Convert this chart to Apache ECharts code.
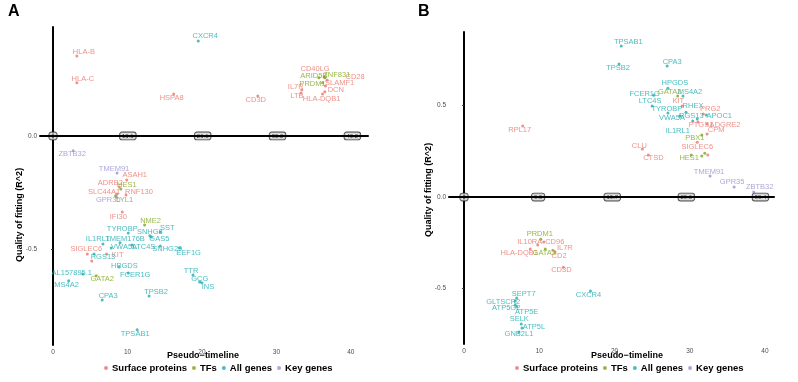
<!DOCTYPE html>
<html><head><meta charset="utf-8">
<script src="https://cdn.jsdelivr.net/npm/echarts@6/dist/echarts.min.js"></script>
<style>html,body{margin:0;padding:0;background:#fff}#c{width:798px;height:382px}</style>
</head><body><div id="c"></div>
<script>
// ---------- DATA ----------
const groups = ['Surface proteins', 'TFs', 'All genes', 'Key genes'];

// Panel A  [gene, pseudo-time, R^2]
const aSurface = [
  ['HLA-B', 3.2, 0.354], ['HLA-C', 3.2, 0.235], ['HSPA8', 16.2, 0.186], ['CD3D', 27.5, 0.177],
  ['CD40LG', 36.4, 0.261], ['CD28', 36.8, 0.248], ['SLAMF1', 36.6, 0.221], ['IL7R', 33.4, 0.204],
  ['LTB', 33.3, 0.190], ['DCN', 36.5, 0.195], ['HLA-DQB1', 36.2, 0.186],
  ['ASAH1', 9.9, -0.195], ['ADRB2', 8.9, -0.226], ['SLC44A1', 8.6, -0.257], ['RNF130', 9.8, -0.261],
  ['IFI30', 9.3, -0.336], ['SIGLEC6', 4.6, -0.522], ['KIT', 7.2, -0.522], ['', 5.2, -0.553]
];
const aTFs = [
  ['ARID5B', 35.7, 0.257], ['ZNF831', 36.5, 0.257], ['PRDM1', 36.2, 0.235],
  ['HES1', 9.1, -0.235], ['LYL1', 8.4, -0.265], ['NME2', 12.3, -0.394], ['GATA2', 5.8, -0.619]
];
const aAll = [
  ['CXCR4', 19.5, 0.420], ['TYROBP', 10.1, -0.429], ['SNHG8', 13.0, -0.442], ['SST', 14.4, -0.425],
  ['GAS5', 13.2, -0.447], ['IL1RL1', 6.7, -0.478], ['TMEM176B', 9.0, -0.473], ['VWA5A', 7.8, -0.496],
  ['LTC4S', 10.6, -0.482], ['SNHG29', 14.4, -0.487], ['EEF1G', 17.0, -0.496], ['RGS13', 5.5, -0.522],
  ['AL157895.1', 4.0, -0.611], ['MS4A2', 2.1, -0.641], ['HPGDS', 8.9, -0.580], ['FCER1G', 10.1, -0.606],
  ['TTR', 18.8, -0.615], ['GCG', 19.7, -0.646], ['INS', 20.0, -0.650], ['CPA3', 6.6, -0.726],
  ['TPSB2', 12.9, -0.708], ['TPSAB1', 11.3, -0.858]
];
const aKey = [
  ['ZBTB32', 2.7, -0.066], ['TMEM91', 8.6, -0.164], ['GPR35', 8.5, -0.270]
];

// Panel B
const bSurface = [
  ['KIT', 29.0, 0.497], ['PRG2', 31.8, 0.454], ['ADGRE2', 32.3, 0.399], ['PTGS1', 31.1, 0.410],
  ['CPM', 32.3, 0.344], ['SIGLEC6', 31.0, 0.300], ['CLU', 23.7, 0.262], ['CTSD', 24.5, 0.230],
  ['', 32.4, 0.230], ['RPL17', 7.8, 0.388],
  ['IL10RA', 9.8, -0.262], ['CD96', 10.6, -0.246], ['IL7R', 11.8, -0.290], ['HLA-DQB1', 8.8, -0.284],
  ['CD2', 12.1, -0.300], ['CD3D', 13.2, -0.383]
];
const bTFs = [
  ['GATA2', 28.4, 0.552], ['PBX1', 31.6, 0.339], ['HES1', 30.2, 0.230], ['', 31.6, 0.224], ['', 32.0, 0.240],
  ['PRDM1', 10.2, -0.230], ['GATA3', 10.8, -0.284]
];
const bAll = [
  ['TPSAB1', 20.9, 0.825], ['TPSB2', 20.6, 0.727], ['CPA3', 27.0, 0.716], ['HPGDS', 27.1, 0.595],
  ['MS4A2', 29.1, 0.552], ['FCER1G', 25.2, 0.557], ['LTC4S', 25.0, 0.497], ['TYROBP', 27.1, 0.459],
  ['RHEX', 29.5, 0.464], ['APOC1', 32.2, 0.448], ['VWA5A', 28.7, 0.443], ['RGS13', 31.0, 0.426],
  ['IL1RL1', 30.4, 0.415],
  ['CXCR4', 16.8, -0.514], ['SEPT7', 7.0, -0.552], ['GLTSCR2', 6.8, -0.568], ['ATP5G2', 6.8, -0.590],
  ['ATP5E', 7.0, -0.600], ['SELK', 7.6, -0.694], ['ATP5L', 7.7, -0.716], ['GNB2L1', 7.3, -0.738]
];
const bKey = [
  ['TMEM91', 32.7, 0.115], ['GPR35', 35.9, 0.055], ['ZBTB32', 38.5, 0.027]
];

const xTicks = [0, 10, 20, 30, 40];
const yTicksA = [-0.5, 0];
const yTicksB = [-0.5, 0, 0.5];
const boxLabelsA = ['0', '10.1', '20.1', '30.2', '40.2'];
const boxLabelsB = ['0', '9.9', '19.7', '29.6', '39.4'];

// ---------- STYLE (label placement, px offsets from point) ----------
const offA = {
  'HLA-B':[7,-4],'HLA-C':[6,-4],'HSPA8':[-2,4],'CXCR4':[7,-5],'CD3D':[-2,4],'CD40LG':[-9,-8],
  'ARID5B':[-5,-2],'ZNF831':[12,-3],'CD28':[28,-3],'PRDM1':[-10,1],'SLAMF1':[14,-3],'IL7R':[-6,-3],
  'LTB':[-4,3],'DCN':[11,-2],'HLA-DQB1':[-1,5],
  'ZBTB32':[-1,3],'TMEM91':[-3,-4],'ASAH1':[8,-5],'ADRB2':[-9,-4],'HES1':[6,-4],'SLC44A1':[-13,-2],
  'RNF130':[13,-3],'LYL1':[9,4],'GPR35':[-8,3],'IFI30':[-4,5],'NME2':[6,-4],'TYROBP':[-6,-4],
  'SNHG8':[0,-4],'SST':[7,-4],'GAS5':[8,2],'IL1RL1':[-5,-5],'TMEM176B':[5,-4],'VWA5A':[13,-1],
  'LTC4S':[12,2],'SNHG29':[7,3],'EEF1G':[9,5],'SIGLEC6':[-1,-5],'RGS13':[9,3],'KIT':[11,1],
  'AL157895.1':[-11,-1],'MS4A2':[-2,4],'GATA2':[6,3],'HPGDS':[5,-1],'FCER1G':[7,2],'TTR':[-2,-4],
  'GCG':[0,-3],'INS':[6,4],'CPA3':[6,-4],'TPSB2':[7,-4],'TPSAB1':[-2,4]
};
const offB = {
  'TPSAB1':[7,-4],'TPSB2':[-1,4],'CPA3':[5,-4],'HPGDS':[7,-5],'GATA2':[-8,-4],'MS4A2':[7,-4],
  'FCER1G':[-9,-1],'LTC4S':[-2,-5],'KIT':[-4,-5],'TYROBP':[-1,-4],'RHEX':[7,-6],'PRG2':[7,-5],
  'APOC1':[13,1],'VWA5A':[-8,2],'RGS13':[-6,-3],'ADGRE2':[18,1],'PTGS1':[3,3],'IL1RL1':[-15,10],
  'CPM':[9,-4],'PBX1':[-7,3],'SIGLEC6':[0,5],'CLU':[-3,-3],'CTSD':[5,3],'HES1':[-2,3],
  'TMEM91':[-1,-4],'GPR35':[-2,-5],'ZBTB32':[6,-5],'RPL17':[-3,4],
  'PRDM1':[-1,-5],'IL10RA':[-8,-3],'CD96':[11,0],'IL7R':[12,-2],'HLA-DQB1':[-11,4],'GATA3':[-1,4],
  'CD2':[4,4],'CD3D':[-2,3],'CXCR4':[-2,4],'SEPT7':[7,-4],'GLTSCR2':[-12,1],'ATP5G2':[-9,3],
  'ATP5E':[10,5],'SELK':[-2,-5],'ATP5L':[12,-1],'GNB2L1':[0,2]
};
const colors = ['#e8766c', '#7fa51c', '#1eadb0', '#9b8ecf'];
const FONT = 'Liberation Sans, Arial, sans-serif';

function mk(gi, arr, pi, offs) {
  return {
    type: 'scatter', name: groups[gi], xAxisIndex: pi, yAxisIndex: pi,
    symbolSize: 3, itemStyle: { color: colors[gi] }, z: 3,
    label: { show: true, position: 'inside', formatter: '{b}', color: colors[gi], fontSize: 7.5, fontFamily: FONT },
    emphasis: { disabled: true },
    data: arr.map(d => ({ name: d[0], value: [d[1], d[2]],
      label: { show: !!d[0], offset: offs[d[0]] || [0, -5] } }))
  };
}
function zeroSeries(pi, labels) {
  const maxv = parseFloat(labels[labels.length - 1]);
  return {
    type: 'scatter', name: 'zero' + pi, xAxisIndex: pi, yAxisIndex: pi, symbolSize: 0, z: 4,
    silent: true,
    label: { show: true, position: 'inside', formatter: '{b}', fontSize: 6, fontFamily: FONT, color: '#111',
      backgroundColor: '#e2e2e2', borderColor: '#222', borderWidth: 0.9, borderRadius: 2, padding: [1, 2, 0, 2] },
    data: labels.map((l, i) => ({ name: l, value: [i * maxv / (labels.length - 1), 0] })),
    markLine: { silent: true, symbol: ['none', 'none'], label: { show: false },
      lineStyle: { color: '#000', width: 2, type: 'solid' }, data: [{ yAxis: 0 }] }
  };
}
function xAx(gi, min, max) {
  return {
    type: 'value', gridIndex: gi, min: min, max: max,
    axisLine: { lineStyle: { color: '#000', width: 2 } },
    axisTick: { show: true, length: 2, customValues: xTicks, lineStyle: { color: '#333' } },
    axisLabel: { customValues: xTicks, fontSize: 6.5, color: '#4d4d4d', margin: 4, fontFamily: FONT },
    splitLine: { show: false }
  };
}
function yAx(gi, min, max, ticks) {
  return {
    type: 'value', gridIndex: gi, min: min, max: max,
    axisLine: { show: true, lineStyle: { color: '#000', width: 2 } },
    axisTick: { show: true, length: 2, customValues: ticks, lineStyle: { color: '#333' } },
    axisLabel: { customValues: ticks, fontSize: 6.5, color: '#4d4d4d', margin: 3, fontFamily: FONT,
      formatter: v => v.toFixed(1) },
    splitLine: { show: false }
  };
}
const legendBase = {
  data: groups, icon: 'circle', itemWidth: 4, itemHeight: 4, itemGap: 5, top: 358,
  textStyle: { fontWeight: 'bold', fontSize: 9.5, color: '#000', fontFamily: FONT, padding: [0, 0, 0, -1] },
  selectedMode: false
};
function title(x, y, rot, t) {
  return { type: 'text', x: x, y: y, rotation: rot,
    style: { text: t, font: 'bold 9px ' + FONT, fill: '#000', textAlign: 'center', textVerticalAlign: 'middle' } };
}

const chart = echarts.init(document.getElementById('c'), null, { renderer: 'canvas' });
chart.setOption({
  animation: false,
  backgroundColor: '#fff',
  grid: [
    { left: 40, top: 27, width: 328, height: 318 },
    { left: 449, top: 32, width: 325, height: 312 }
  ],
  xAxis: [xAx(0, -1.75, 42.3), xAx(1, -2.0, 41.2)],
  yAxis: [yAx(0, -0.925, 0.482, yTicksA), yAx(1, -0.803, 0.902, yTicksB)],
  legend: [Object.assign({}, legendBase, { left: 99 }), Object.assign({}, legendBase, { left: 510 })],
  graphic: [
    { type: 'text', x: 8, y: 4, style: { text: 'A', font: 'bold 16px ' + FONT, fill: '#000' } },
    { type: 'text', x: 418, y: 4, style: { text: 'B', font: 'bold 16px ' + FONT, fill: '#000' } },
    title(20, 215, Math.PI / 2, 'Quality of fitting (R^2)'),
    title(429, 190, Math.PI / 2, 'Quality of fitting (R^2)'),
    title(203, 356, 0, 'Pseudo\u2212timeline'),
    title(627, 356, 0, 'Pseudo\u2212timeline')
  ],
  series: [
    zeroSeries(0, boxLabelsA), zeroSeries(1, boxLabelsB),
    mk(0, aSurface, 0, offA), mk(1, aTFs, 0, offA), mk(2, aAll, 0, offA), mk(3, aKey, 0, offA),
    mk(0, bSurface, 1, offB), mk(1, bTFs, 1, offB), mk(2, bAll, 1, offB), mk(3, bKey, 1, offB)
  ]
});
</script></body></html>
